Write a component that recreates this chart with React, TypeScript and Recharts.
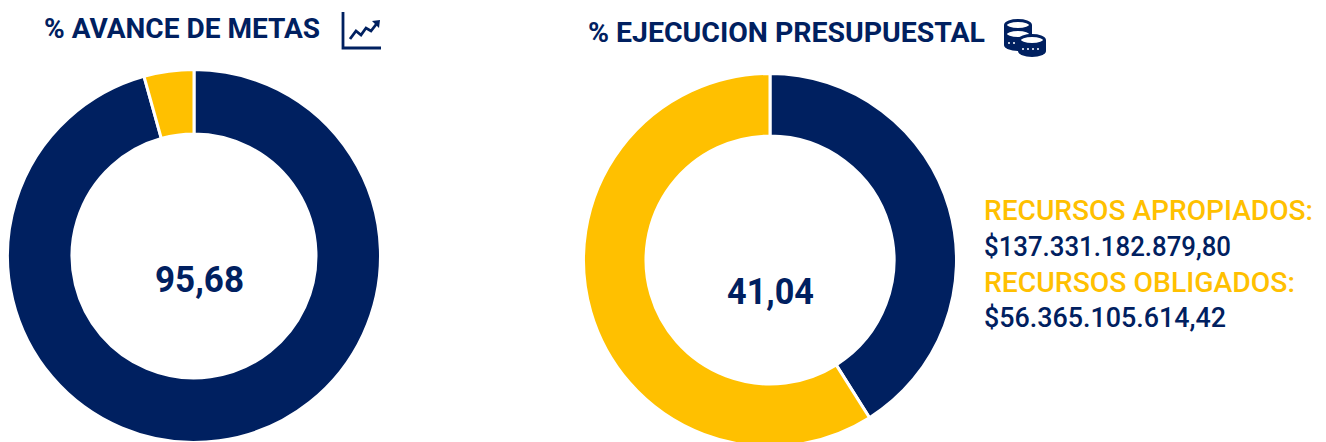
import { PieChart, Pie, Cell } from "recharts";

const NAVY = "#002060";
const YELLOW = "#FFC000";

const metasNames = ["Avance", "Pendiente"];
const metasValues = [95.68, 4.32];
const presupuestoNames = ["Ejecutado", "Por ejecutar"];
const presupuestoValues = [41.04, 58.96];
const metasColors = [NAVY, YELLOW];
const presupuestoColors = [NAVY, YELLOW];

const metasData = metasNames.map((name, i) => ({ name, value: metasValues[i] }));
const presupuestoData = presupuestoNames.map((name, i) => ({ name, value: presupuestoValues[i] }));

const fmt = (v: number) => v.toFixed(2).replace(".", ",");

const FONT = "Roboto, sans-serif";

function Label(props: { x: number; y: number; w: number; size: number; weight: number; fill: string; text: string }) {
  return (
    <text
      x={props.x}
      y={props.y}
      textLength={props.w}
      lengthAdjust="spacingAndGlyphs"
      fontFamily={FONT}
      fontSize={props.size}
      fontWeight={props.weight}
      fill={props.fill}
    >
      {props.text}
    </text>
  );
}

function Coin({ cx, cy }: { cx: number; cy: number }) {
  return (
    <g>
      <path d={`M${cx - 14} ${cy}v11a14 6 0 0 0 28 0v-11z`} fill={NAVY} />
      <line x1={cx - 10} x2={cx + 10} y1={cy + 9} y2={cy + 9} stroke="#fff" strokeWidth={1.3} strokeDasharray="2 3" />
      <ellipse cx={cx} cy={cy} rx={12.5} ry={4.5} fill="#fff" stroke={NAVY} strokeWidth={3} />
    </g>
  );
}

export default function App() {
  return (
    <div style={{ position: "absolute", left: 0, top: 0, width: 1326, height: 442, overflow: "hidden", background: "#fff" }}>
      <PieChart width={1326} height={442} margin={{ top: 0, right: 0, bottom: 0, left: 0 }}>
        <Pie
          data={metasData}
          dataKey="value"
          cx={194}
          cy={256}
          innerRadius={122}
          outerRadius={186.5}
          startAngle={90}
          endAngle={-270}
          stroke="#fff"
          strokeWidth={3}
          isAnimationActive={false}
        >
          {metasData.map((d, i) => (
            <Cell key={d.name} fill={metasColors[i]} />
          ))}
        </Pie>
        <Pie
          data={presupuestoData}
          dataKey="value"
          cx={770}
          cy={260}
          innerRadius={124}
          outerRadius={186.5}
          startAngle={90}
          endAngle={-270}
          stroke="#fff"
          strokeWidth={3}
          isAnimationActive={false}
        >
          {presupuestoData.map((d, i) => (
            <Cell key={d.name} fill={presupuestoColors[i]} />
          ))}
        </Pie>
      </PieChart>
      <svg width={1326} height={442} style={{ position: "absolute", left: 0, top: 0, pointerEvents: "none" }}>
        <Label x={44} y={38} w={276} size={27} weight={700} fill={NAVY} text="% AVANCE DE METAS" />
        <Label x={588} y={42} w={397} size={27} weight={700} fill={NAVY} text="% EJECUCION PRESUPUESTAL" />

        <Label x={155} y={292} w={89} size={36} weight={700} fill={NAVY} text={fmt(metasValues[0])} />
        <Label x={727} y={304} w={87} size={36} weight={700} fill={NAVY} text={fmt(presupuestoValues[0])} />

        <Label x={984} y={220} w={329} size={28} weight={500} fill={YELLOW} text="RECURSOS APROPIADOS:" />
        <Label x={984} y={256} w={247} size={28} weight={500} fill={NAVY} text="$137.331.182.879,80" />
        <Label x={984} y={292} w={311} size={28} weight={500} fill={YELLOW} text="RECURSOS OBLIGADOS:" />
        <Label x={984} y={327} w={242} size={28} weight={500} fill={NAVY} text="$56.365.105.614,42" />

        <path d="M343 12V48H381" fill="none" stroke={NAVY} strokeWidth={2.8} />
        <path d="M350 39L356 31L361 35L366 28L371 31L378 22" fill="none" stroke={NAVY} strokeWidth={2.8} />
        <path d="M372 21L380 20L379 28z" fill={NAVY} />

        <Coin cx={1018} cy={25} />
        <Coin cx={1018} cy={34} />
        <Coin cx={1032} cy={40} />
      </svg>
    </div>
  );
}
